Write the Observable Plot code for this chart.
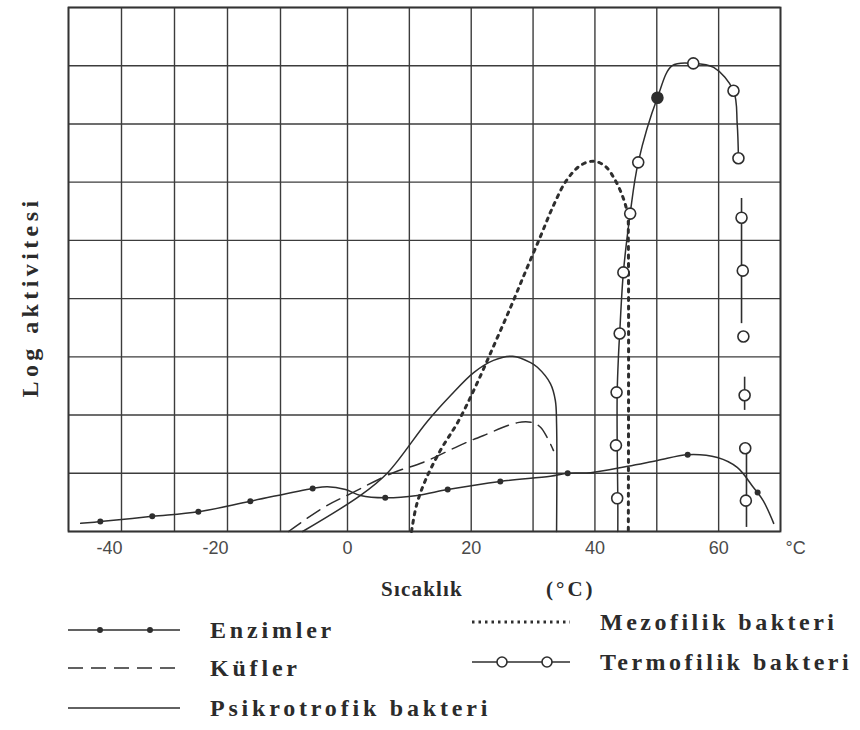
<!DOCTYPE html>
<html><head><meta charset="utf-8">
<script src="https://cdn.jsdelivr.net/npm/d3@7"></script>
<script src="https://cdn.jsdelivr.net/npm/@observablehq/plot@0.6"></script>
<style>
body{margin:0;background:#fff;}
#wrap{position:relative;width:860px;height:730px;overflow:hidden;background:#fff;}
.lbl{position:absolute;white-space:nowrap;font-family:"Liberation Serif","DejaVu Serif",serif;font-weight:bold;color:#2b2b2b;line-height:1;transform:translateY(-50%);}
</style></head><body><div id="wrap"></div>
<script>
// ---- grid / ticks ----
const gridXTicks = [-50,-40,-30,-20,-10,0,10,20,30,40,50,60,70];
const gridYTicks = [0,1,2,3,4,5,6,7,8,9];
const tickLabels = [-40,-20,0,20,40,60];

// ---- Enzimler (solid line with small dots) ----
const enzX = [-47.7,-44.0,-34.2,-25.5,-15.7,-5.2,-3.0,-0.3,2.1,6.1,11.3,16.2,24.7,32.8,35.6,39.3,45.3,50.1,55.0,59.8,63.0,65.6,67.2,68.9];
const enzY = [0.14,0.17,0.26,0.34,0.52,0.74,0.77,0.72,0.62,0.58,0.62,0.72,0.86,0.95,1.00,1.01,1.12,1.22,1.32,1.27,1.10,0.76,0.53,0.14];
const enzDotX = [-44.0,-34.2,-25.5,-15.7,-5.2,6.1,16.2,24.7,35.6,55.0,66.3];
const enzDotY = [0.17,0.26,0.34,0.52,0.74,0.58,0.72,0.86,1.00,1.32,0.67];

// ---- Küfler (dashed) ----
const kufX = [-8.8,-3.6,0.5,7.4,12.3,18.8,22.0,27.5,29.9,31.2,32.3,33.3];
const kufY = [0.0,0.41,0.65,1.01,1.19,1.51,1.65,1.87,1.87,1.79,1.61,1.39];

// ---- Psikrotrofik bakteri (solid) ----
const psiX = [-6.7,2.1,6.5,12.9,16.7,20.4,23.6,26.7,29.6,30.7,32.8,33.6,33.8,33.8];
const psiY = [0.0,0.62,1.01,1.89,2.34,2.73,2.94,3.01,2.90,2.82,2.54,2.25,1.85,0.0];

// ---- Mezofilik bakteri (dotted) ----
const mezX = [10.35,11.15,12.6,15.0,17.9,20.7,23.6,26.4,28.8,31.2,33.3,35.4,37.7,39.8,41.7,43.3,44.6,45.3,45.4,45.4];
const mezY = [0.0,0.45,0.88,1.39,1.89,2.49,3.18,3.86,4.47,5.07,5.60,6.03,6.29,6.36,6.27,6.03,5.72,5.43,5.0,0.0];

// ---- Termofilik bakteri (line with open circles) ----
const termX = [43.7,43.7,43.6,43.6,43.8,44.0,44.6,45.7,47.0,50.1,52.5,55.9,59.2,62.4,63.0,63.2];
const termY = [0.0,0.57,1.48,2.39,3.00,3.40,4.45,5.46,6.34,7.45,8.00,8.04,7.97,7.57,7.0,6.41];
const termCircX = [43.6,43.4,43.5,44.0,44.6,45.7,47.0,55.9,62.4,63.2,63.7,63.9,64.0,64.2,64.3,64.4];
const termCircY = [0.57,1.48,2.39,3.40,4.45,5.46,6.34,8.04,7.57,6.41,5.39,4.48,3.35,2.34,1.43,0.53];
const termFilledX = [50.1];
const termFilledY = [7.45];
const termDropX  = [63.7,64.2,64.5];
const termDropY1 = [5.72,2.65,1.43];
const termDropY2 = [3.57,2.08,0.07];

// ---- texts ----
const yTitle = "Log aktivitesi";
const xTitle = "Sıcaklık";
const xUnit = "(°C)";
const unitLabel = "°C";
const legendLeft = ["Enzimler","Küfler","Psikrotrofik bakteri"];
const legendRight = ["Mezofilik bakteri","Termofilik bakteri"];

const rows = (xs, ys) => xs.map((x,i) => ({x, y: ys[i]}));
const INK = "#2e2e2e";
const TICK = "#4a4a4a";

const plot = Plot.plot({
  width: 860, height: 575,
  marginLeft: 68, marginRight: 80, marginTop: 7, marginBottom: 44,
  x: {type: "linear", domain: [-50,-10,0,70], range: [68,280,347,780], axis: null},
  y: {domain: [0,9], axis: null},
  style: {background: "white", fontFamily: "'Liberation Sans', Arial, sans-serif", fontSize: "18px", color: TICK},
  marks: [
    Plot.ruleX(gridXTicks, {stroke: "#3c3c3c", strokeWidth: 1.4}),
    Plot.ruleY(gridYTicks, {stroke: "#3c3c3c", strokeWidth: 1.4}),
    Plot.frame({stroke: "#333", strokeWidth: 1.8}),
    Plot.text(tickLabels.filter(d => d < 0), {x: d => d, text: d => String(d), frameAnchor: "bottom", dy: 22, dx: -12, fontSize: 18, fill: TICK}),
    Plot.text(tickLabels.filter(d => d >= 0), {x: d => d, text: d => String(d), frameAnchor: "bottom", dy: 22, fontSize: 18, fill: TICK}),
    Plot.text([unitLabel], {frameAnchor: "bottom-right", dx: 5, dy: 22, textAnchor: "start", fontSize: 18, fill: TICK}),
    Plot.line(rows(enzX, enzY), {x: "x", y: "y", stroke: INK, strokeWidth: 1.5, curve: "catmull-rom"}),
    Plot.dot(rows(enzDotX, enzDotY), {x: "x", y: "y", r: 3, fill: INK, stroke: "none"}),
    Plot.line(rows(kufX, kufY), {x: "x", y: "y", stroke: INK, strokeWidth: 1.5, strokeDasharray: "15 8", curve: "catmull-rom"}),
    Plot.line(rows(psiX, psiY), {x: "x", y: "y", stroke: INK, strokeWidth: 1.5, curve: "catmull-rom"}),
    Plot.line(rows(mezX, mezY), {x: "x", y: "y", stroke: INK, strokeWidth: 3, strokeDasharray: "3 5.5", curve: "catmull-rom"}),
    Plot.line(rows(termX, termY), {x: "x", y: "y", stroke: INK, strokeWidth: 1.5, curve: "catmull-rom"}),
    Plot.ruleX(termDropX.map((x,i) => ({x, y1: termDropY1[i], y2: termDropY2[i]})), {x: "x", y1: "y1", y2: "y2", stroke: INK, strokeWidth: 1.6}),
    Plot.dot(rows(termCircX, termCircY), {x: "x", y: "y", r: 5.5, fill: "white", stroke: INK, strokeWidth: 1.6}),
    Plot.dot(rows(termFilledX, termFilledY), {x: "x", y: "y", r: 5.5, fill: INK, stroke: INK, strokeWidth: 1.6})
  ]
});
plot.style.position = "absolute";
plot.style.left = "0px";
plot.style.top = "0px";
const wrap = document.getElementById("wrap");
wrap.appendChild(plot);

function addLabel(text, left, top, size, ls) {
  const d = document.createElement("div");
  d.className = "lbl";
  d.textContent = text;
  d.style.left = left + "px";
  d.style.top = top + "px";
  d.style.fontSize = size + "px";
  d.style.letterSpacing = ls + "px";
  wrap.appendChild(d);
  return d;
}
// y-axis title (rotated)
const yl = addLabel(yTitle, 30, 297, 24, 4.4);
yl.style.transform = "translate(-50%,-50%) rotate(-90deg)";

// x-axis title below the chart
addLabel(xTitle, 381, 589, 21, 1.2);
addLabel(xUnit, 546, 589, 21, 3);

// legend samples
function sample(left, top, w, kind) {
  const svg = d3.create("svg").attr("width", w).attr("height", 20)
    .style("position", "absolute").style("left", left + "px").style("top", (top - 10) + "px");
  const ln = svg.append("line").attr("x1", 0).attr("x2", w).attr("y1", 10).attr("y2", 10)
    .attr("stroke", INK).attr("stroke-width", 1.6);
  if (kind === "enz") {
    [32, 82].forEach(cx => svg.append("circle").attr("cx", cx).attr("cy", 10).attr("r", 3).attr("fill", INK));
  } else if (kind === "kuf") {
    ln.attr("stroke-dasharray", "15 8").attr("stroke-width", 1.4);
  } else if (kind === "mez") {
    ln.attr("stroke-dasharray", "2.5 4").attr("stroke-width", 3);
  } else if (kind === "term") {
    [30, 75].forEach(cx => svg.append("circle").attr("cx", cx).attr("cy", 10).attr("r", 5).attr("fill", "white").attr("stroke", INK).attr("stroke-width", 1.6));
  }
  wrap.appendChild(svg.node());
}
const leftKinds = ["enz","kuf","psi"];
const leftRowsY = [630, 668, 708];
legendLeft.forEach((t, i) => {
  sample(68, leftRowsY[i], 112, leftKinds[i]);
  addLabel(t, 210, leftRowsY[i], 24, 3.8);
});
const rightKinds = ["mez","term"];
const rightRowsY = [622, 662];
legendRight.forEach((t, i) => {
  sample(472, rightRowsY[i], 98, rightKinds[i]);
  addLabel(t, 600, rightRowsY[i], 24, 3.5);
});
</script></body></html>
